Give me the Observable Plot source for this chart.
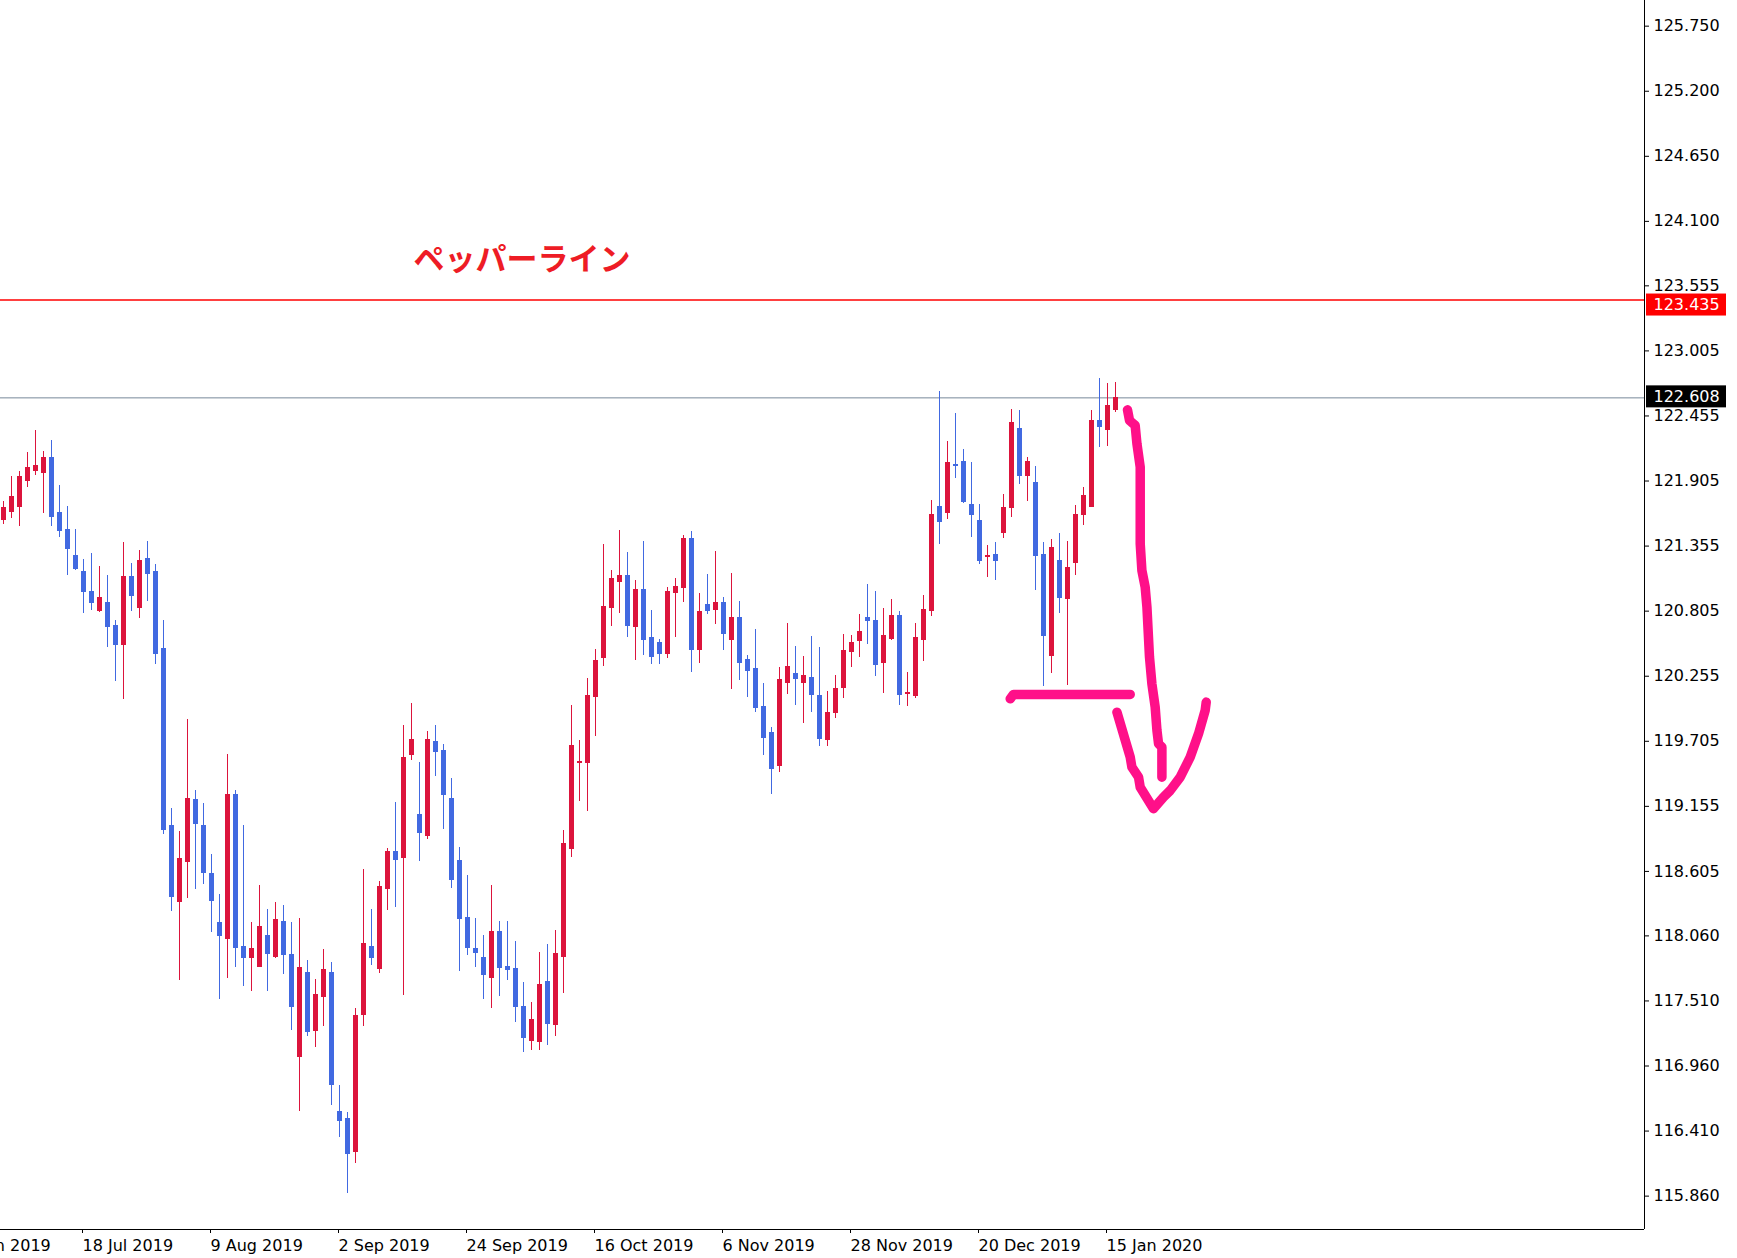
<!DOCTYPE html>
<html>
<head>
<meta charset="utf-8">
<script src="https://cdn.jsdelivr.net/npm/d3@7"></script>
<script src="https://cdn.jsdelivr.net/npm/@observablehq/plot@0.6"></script>
<style>
html, body { margin: 0; padding: 0; background: #ffffff; overflow: hidden; }
#chart svg { display: block; }
</style>
</head>
<body>
<div id="chart"></div>
<script>
// Daily candles, 4 Jul 2019 .. 16 Jan 2020 (bar index 0..139)
const opens = [
121.576,121.641,121.689,121.909,121.993,121.977,122.103,121.631,121.489,121.269,
121.133,120.971,120.809,120.871,120.683,120.515,121.091,120.829,121.243,121.139,
120.483,118.992,118.344,118.686,119.205,118.992,118.586,118.167,118.035,119.248,
117.964,117.871,117.796,118.063,117.882,118.174,117.896,117.035,117.750,117.256,
117.544,117.750,116.569,116.508,116.235,117.391,117.962,117.779,118.455,118.765,
118.717,119.588,119.086,118.903,119.695,119.619,119.221,118.689,118.215,117.953,
117.877,117.703,118.089,117.793,117.776,117.463,117.170,117.161,117.666,117.305,
117.880,118.793,119.523,119.520,120.078,120.408,120.830,121.050,121.098,120.670,
120.980,120.582,120.532,120.441,120.957,120.999,121.419,120.475,120.853,120.813,
120.870,120.560,120.743,120.388,120.312,119.991,119.779,119.495,120.196,120.270,
120.196,120.244,120.092,119.715,119.943,120.154,120.459,120.552,120.743,120.726,
120.366,120.568,120.760,120.104,120.087,120.560,120.805,121.682,121.634,122.043,
122.062,121.699,121.563,121.262,121.276,121.465,121.676,122.341,121.947,121.885,
121.276,120.425,121.225,120.907,121.211,121.617,121.685,122.409,122.336,122.505
];
const highs = [
121.731,121.945,121.987,122.145,122.333,122.155,122.249,121.867,121.689,121.495,
121.243,121.291,121.181,121.107,120.725,121.385,121.207,121.317,121.395,121.201,
120.725,119.138,118.942,119.889,119.291,119.181,118.750,118.408,119.593,119.291,
118.992,118.174,118.487,118.284,118.341,118.316,118.174,118.206,117.853,117.693,
117.946,117.836,116.797,116.569,117.448,118.622,118.283,118.520,118.799,119.188,
119.839,120.025,119.526,119.788,119.839,119.678,119.391,118.807,118.570,118.207,
118.063,118.486,118.182,118.182,118.013,117.666,117.497,117.920,117.987,118.106,
118.951,120.008,119.712,120.236,120.481,121.369,121.149,121.487,121.301,121.064,
121.394,120.811,120.565,121.005,121.081,121.445,121.478,120.954,121.115,121.309,
120.921,121.123,120.887,120.430,120.650,120.193,119.822,120.329,120.701,120.506,
120.422,120.591,120.498,120.126,120.261,120.608,120.599,120.777,121.031,120.971,
120.828,120.904,120.802,120.287,120.701,120.938,121.741,122.662,122.240,122.476,
122.172,122.062,121.707,121.361,121.386,121.792,122.510,122.502,122.104,122.028,
121.386,121.411,121.462,121.394,121.699,121.851,122.502,122.772,122.730,122.739
];
const lows = [
121.537,121.589,121.521,121.851,121.951,121.631,121.521,121.427,121.107,121.149,
120.787,120.809,120.793,120.499,120.211,120.059,120.803,120.745,120.887,120.353,
118.921,118.270,117.679,118.380,118.448,118.497,118.092,117.519,117.697,117.789,
117.629,117.587,117.789,117.587,117.868,117.736,117.263,116.573,117.213,117.113,
117.291,116.629,116.359,115.879,116.138,117.291,117.810,117.742,118.277,118.300,
117.559,119.546,118.692,118.878,119.410,118.962,118.463,117.762,117.897,117.796,
117.525,117.449,117.550,117.686,117.331,117.077,117.094,117.094,117.136,117.212,
117.576,118.725,119.199,119.114,119.748,120.340,120.678,120.788,120.585,120.391,
120.433,120.357,120.357,120.408,120.585,120.881,120.289,120.365,120.780,120.695,
120.475,120.146,120.222,120.078,119.951,119.588,119.258,119.444,120.104,120.011,
119.858,119.951,119.664,119.664,119.901,120.070,120.332,120.416,120.526,120.256,
120.112,120.560,120.011,120.002,120.070,120.383,120.763,121.372,121.583,121.930,
121.718,121.431,121.203,121.093,121.067,121.423,121.600,121.879,121.735,120.983,
120.171,120.281,120.788,120.180,121.110,121.532,121.685,122.192,122.200,122.488
];
const closes = [
121.673,121.773,121.935,122.013,122.029,122.103,121.599,121.479,121.327,121.159,
120.971,120.871,120.913,120.667,120.515,121.091,120.929,121.233,121.117,120.447,
118.953,118.387,118.707,119.213,119.006,118.590,118.355,118.060,119.255,117.957,
117.871,117.953,118.138,117.907,118.191,117.900,117.458,117.786,117.249,117.558,
117.775,116.800,116.494,116.217,117.380,117.989,117.872,118.469,118.765,118.700,
119.560,119.712,118.928,119.720,119.613,119.250,118.531,118.201,117.956,117.914,
117.728,118.097,117.787,117.770,117.457,117.195,117.353,117.649,117.314,117.911,
118.833,119.669,119.529,120.092,120.380,120.844,121.081,121.106,120.678,120.980,
120.560,120.416,120.441,120.963,121.005,121.411,120.475,120.802,120.805,120.878,
120.611,120.751,120.365,120.298,119.985,119.731,119.469,120.227,120.329,120.230,
120.253,120.095,119.723,119.948,120.151,120.464,120.540,120.633,120.721,120.349,
120.591,120.760,120.095,120.109,120.574,120.811,121.614,121.558,122.054,122.034,
121.727,121.617,121.228,121.268,121.228,121.673,122.392,121.947,122.062,121.270,
120.594,121.335,120.915,121.166,121.614,121.775,122.409,122.361,122.536,122.608
];

// Axis ticks
const xTickBars = [-6, 10, 26, 42, 58, 74, 90, 106, 122, 138];
const xTickLabels = ["26 Jun 2019","18 Jul 2019","9 Aug 2019","2 Sep 2019","24 Sep 2019",
                     "16 Oct 2019","6 Nov 2019","28 Nov 2019","20 Dec 2019","15 Jan 2020"];
const yTicks = [125.750,125.200,124.650,124.100,123.555,123.005,122.455,121.905,121.355,
                120.805,120.255,119.705,119.155,118.605,118.060,117.510,116.960,116.410,115.860];

// Horizontal levels
const pepperLevel = 123.435;
const lastPrice = 122.608;
const titleText = "ペッパーライン";

// Hand-drawn annotation strokes (bar index, price)
const strokeDown = [[140.50,122.507],[140.75,122.417],[141.46,122.375],[141.68,122.220],[142.09,122.022],
  [142.09,121.375],[142.30,121.149],[142.71,121.008],[142.93,120.839],[143.25,120.416],[143.55,120.191],
  [143.96,119.993],[144.18,119.797],[144.38,119.684],[144.80,119.655],[144.80,119.402]];
const strokeNeck = [[125.84,120.064],[126.25,120.101],[140.84,120.101]];
const strokeArrow = [[139.18,119.951],[140.84,119.571],[141.05,119.486],[141.88,119.402],[142.09,119.317],
  [143.75,119.135],[145.00,119.233],[145.84,119.289],[147.09,119.402],[148.34,119.571],[149.38,119.769],
  [150.21,119.966],[150.34,120.036]];

const UP = "#dc143c", DOWN = "#4169e1", PINK = "#ff1089";
const candles = opens.map((o, i) => ({i, o, h: highs[i], l: lows[i], c: closes[i]}));
const ups = candles.filter(d => d.c >= d.o);
const downs = candles.filter(d => d.c < d.o);
const labelOf = new Map(xTickBars.map((b, k) => [b, xTickLabels[k]]));

const xLo = -0.375, xHi = 205.125, yLo = 115.578, yHi = 125.967;
const half = 0.3125;

const body = (data, color) => Plot.rect(data, {
  x1: d => d.i - half, x2: d => d.i + half, y1: "o", y2: "c",
  fill: color, insetTop: -0.5, insetBottom: -0.5, shapeRendering: "crispEdges"
});
const wick = (data, color) => Plot.ruleX(data, {x: "i", y1: "l", y2: "h", stroke: color, strokeWidth: 1, shapeRendering: "crispEdges"});
const pink = pts => Plot.line(pts, {x: d => d[0], y: d => d[1], stroke: PINK, strokeWidth: 9.5,
  strokeLinecap: "round", strokeLinejoin: "round", curve: "linear"});

const chart = Plot.plot({
  width: 1737, height: 1258,
  marginLeft: 0, marginRight: 93, marginTop: 0, marginBottom: 29,
  style: {fontFamily: "DejaVu Sans, Verdana, sans-serif", background: "#ffffff", color: "#000000"},
  x: {type: "linear", domain: [xLo, xHi]},
  y: {type: "linear", domain: [yLo, yHi]},
  marks: [
    Plot.ruleY([pepperLevel], {stroke: "#ff0000", strokeWidth: 1.5}),
    Plot.ruleY([lastPrice], {stroke: "#778899", strokeWidth: 1}),
    wick(ups, UP), wick(downs, DOWN),
    body(ups, UP), body(downs, DOWN),
    pink(strokeDown), pink(strokeNeck), pink(strokeArrow),
    Plot.axisY(yTicks, {anchor: "right", tickSize: 4, tickPadding: 5, fontSize: 16,
      tickFormat: d => d.toFixed(3), label: null, stroke: "#000", fill: "#000"}),
    Plot.axisX(xTickBars, {anchor: "bottom", tickSize: 4, tickPadding: 6, fontSize: 16,
      textAnchor: "start", dx: -1, tickFormat: d => labelOf.get(d), label: null, stroke: "#000", fill: "#000"}),
    Plot.ruleY([yLo], {stroke: "#000", strokeWidth: 1}),
    Plot.ruleX([xHi], {stroke: "#000", strokeWidth: 1}),
    // price tags on the right scale
    Plot.rect([pepperLevel], {x1: () => xHi, x2: () => xHi, y1: d => d, y2: d => d,
      insetLeft: 2, insetRight: -82, insetTop: -6, insetBottom: -16, fill: "#ff0000"}),
    Plot.text([pepperLevel], {x: () => xHi, y: d => d, text: d => d.toFixed(3), textAnchor: "start",
      dx: 9, dy: 5, fill: "#ffffff", fontSize: 16}),
    Plot.rect([lastPrice], {x1: () => xHi, x2: () => xHi, y1: d => d, y2: d => d,
      insetLeft: 2, insetRight: -82, insetTop: -12, insetBottom: -10, fill: "#000000"}),
    Plot.text([lastPrice], {x: () => xHi, y: d => d, text: d => d.toFixed(3), textAnchor: "start",
      dx: 9, dy: -1, fill: "#ffffff", fontSize: 16}),
    // title annotation
    Plot.text([titleText], {x: () => 51.25, y: () => 123.773, text: d => d, textAnchor: "start",
      fill: "#ee1c25", fontSize: 31, fontWeight: "bold", fontFamily: "Noto Sans CJK JP, sans-serif"})
  ]
});
document.getElementById("chart").appendChild(chart);
</script>
</body>
</html>
